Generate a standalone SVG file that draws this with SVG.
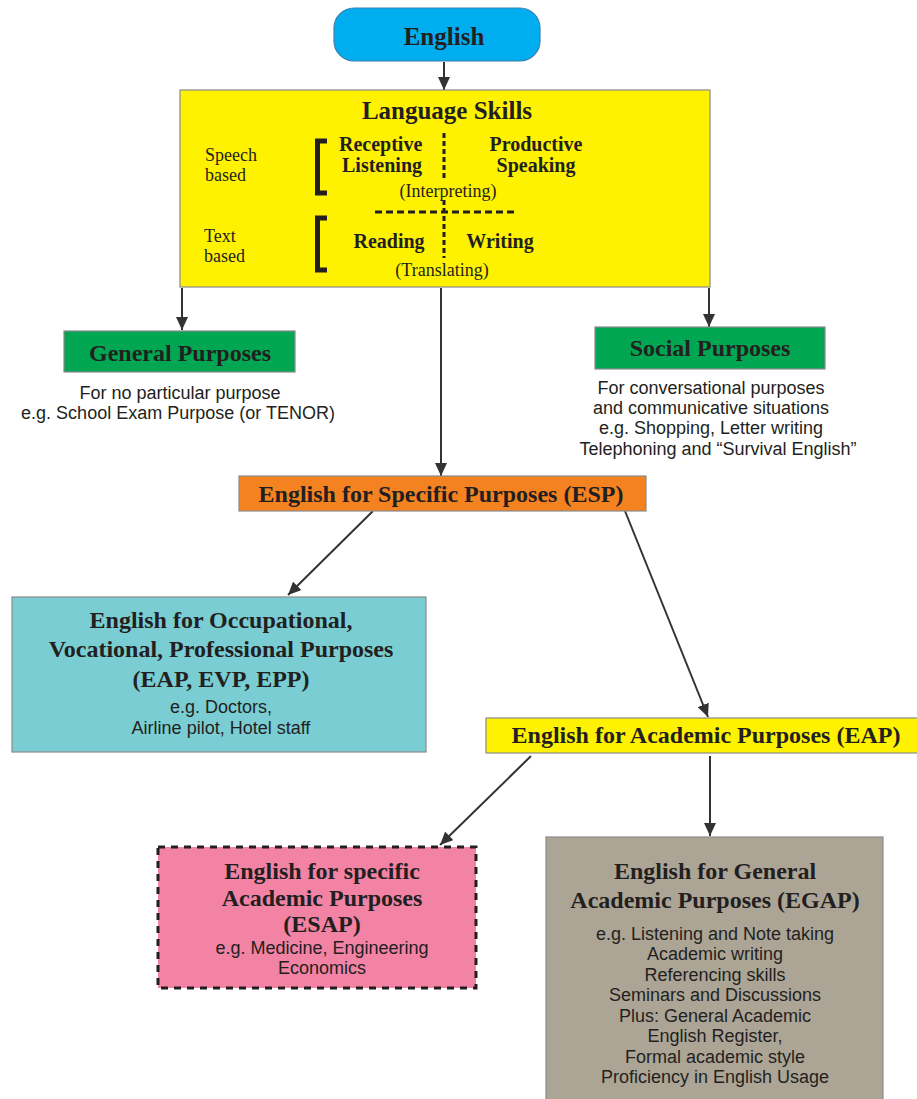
<svg xmlns="http://www.w3.org/2000/svg" width="917" height="1099" viewBox="0 0 917 1099">
<style>
.box{stroke:#8a8a8a;stroke-width:1.2}
.h{font-family:"Liberation Serif","Times New Roman",serif;font-weight:bold;fill:#231f20;text-anchor:middle}
.hl{font-family:"Liberation Serif","Times New Roman",serif;font-weight:bold;fill:#231f20;text-anchor:start}
.s{font-family:"Liberation Sans",Arial,sans-serif;fill:#231f20;text-anchor:middle;font-size:18px}
.r{font-family:"Liberation Serif","Times New Roman",serif;fill:#231f20;font-size:18px}
.rc{font-family:"Liberation Serif","Times New Roman",serif;fill:#231f20;font-size:18px;text-anchor:middle}
.con{stroke:#333;stroke-width:2;fill:none;marker-end:url(#ah)}
.dot{stroke:#231f20;stroke-width:3;fill:none}
</style>
<defs>
<marker id="ah" markerUnits="userSpaceOnUse" markerWidth="14" markerHeight="12" refX="13" refY="6" orient="auto">
<path d="M0,0 L13,6 L0,12 Z" fill="#333"/>
</marker>
</defs>
<rect width="917" height="1099" fill="#ffffff"/>

<g id="connectors">
<line class="con" x1="444" y1="62" x2="444" y2="90"/>
<line class="con" x1="182" y1="288" x2="182" y2="330"/>
<line class="con" x1="709" y1="288" x2="709" y2="327"/>
<line class="con" x1="441" y1="288" x2="441" y2="476"/>
<line class="con" x1="373" y1="511" x2="288" y2="595"/>
<line class="con" x1="625" y1="511" x2="708" y2="717"/>
<line class="con" x1="531" y1="756" x2="440" y2="845"/>
<line class="con" x1="710" y1="756" x2="710" y2="836"/>
</g>

<g id="english">
<rect x="334" y="8" width="206" height="53" rx="20" fill="#00aeef" stroke="#3a7fb0" stroke-width="1.2"/>
<text class="h" x="444" y="45" font-size="25">English</text>
</g>

<g id="language-skills">
<rect class="box" x="180" y="90" width="530" height="197" fill="#fff200"/>
<text class="h" x="447" y="119" font-size="25">Language Skills</text>
<text class="r" x="205" y="161">Speech</text>
<text class="r" x="205" y="181">based</text>
<text class="r" x="204" y="242">Text</text>
<text class="r" x="204" y="262">based</text>
<path d="M327,141 H317.5 V193 H327" stroke="#231f20" stroke-width="5" fill="none"/>
<path d="M327,218 H317.5 V270 H327" stroke="#231f20" stroke-width="5" fill="none"/>
<text class="hl" x="339" y="151" font-size="20">Receptive</text>
<text class="hl" x="342" y="172" font-size="20">Listening</text>
<text class="h" x="536" y="151" font-size="20">Productive</text>
<text class="h" x="536" y="172" font-size="20">Speaking</text>
<line class="dot" x1="444" y1="133" x2="444" y2="180" stroke-dasharray="5 3"/>
<text class="rc" x="448" y="197">(Interpreting)</text>
<line class="dot" x1="375" y1="212" x2="515" y2="212" stroke-dasharray="7 4"/>
<line class="dot" x1="444" y1="200" x2="444" y2="258" stroke-dasharray="5 3"/>
<text class="h" x="389" y="248" font-size="20">Reading</text>
<text class="h" x="500" y="248" font-size="20">Writing</text>
<text class="rc" x="442" y="276">(Translating)</text>
</g>

<g id="general-purposes">
<rect class="box" x="64" y="331" width="231" height="41" fill="#00a651"/>
<text class="h" x="180" y="361" font-size="24">General Purposes</text>
<text class="s" x="180" y="399">For no particular purpose</text>
<text class="s" x="178" y="419">e.g. School Exam Purpose (or TENOR)</text>
</g>

<g id="social-purposes">
<rect class="box" x="595" y="327" width="230" height="42" fill="#00a651"/>
<text class="h" x="710" y="356" font-size="24">Social Purposes</text>
<text class="s" x="711" y="394">For conversational purposes</text>
<text class="s" x="711" y="414">and communicative situations</text>
<text class="s" x="711" y="434">e.g. Shopping, Letter writing</text>
<text class="s" x="718" y="455">Telephoning and “Survival English”</text>
</g>

<g id="esp">
<rect class="box" x="239" y="476" width="407" height="35" fill="#f58220"/>
<text class="h" x="441" y="502" font-size="24">English for Specific Purposes (ESP)</text>
</g>

<g id="occupational">
<rect class="box" x="12" y="597" width="414" height="155" fill="#79cdd3"/>
<text class="h" x="221" y="628" font-size="24">English for Occupational,</text>
<text class="h" x="221" y="657" font-size="24">Vocational, Professional Purposes</text>
<text class="h" x="221" y="687" font-size="24">(EAP, EVP, EPP)</text>
<text class="s" x="221" y="713">e.g. Doctors,</text>
<text class="s" x="221" y="734">Airline pilot, Hotel staff</text>
</g>

<g id="eap">
<rect class="box" x="486" y="718" width="440" height="35" fill="#fff200"/>
<text class="h" x="706" y="743" font-size="24">English for Academic Purposes (EAP)</text>
</g>

<g id="esap">
<rect x="158" y="847" width="318" height="141" fill="#f283a5" stroke="#231f20" stroke-width="3" stroke-dasharray="7 6"/>
<text class="h" x="322" y="879" font-size="24">English for specific</text>
<text class="h" x="322" y="906" font-size="24">Academic Purposes</text>
<text class="h" x="322" y="932" font-size="24">(ESAP)</text>
<text class="s" x="322" y="954">e.g. Medicine, Engineering</text>
<text class="s" x="322" y="974">Economics</text>
</g>

<g id="egap">
<rect class="box" x="546" y="837" width="337" height="270" fill="#aca596"/>
<text class="h" x="715" y="879" font-size="24">English for General</text>
<text class="h" x="715" y="908" font-size="24">Academic Purposes (EGAP)</text>
<text class="s" x="715" y="940">e.g. Listening and Note taking</text>
<text class="s" x="715" y="960">Academic writing</text>
<text class="s" x="715" y="981">Referencing skills</text>
<text class="s" x="715" y="1001">Seminars and Discussions</text>
<text class="s" x="715" y="1022">Plus: General Academic</text>
<text class="s" x="715" y="1042">English Register,</text>
<text class="s" x="715" y="1063">Formal academic style</text>
<text class="s" x="715" y="1083">Proficiency in English Usage</text>
</g>
</svg>
